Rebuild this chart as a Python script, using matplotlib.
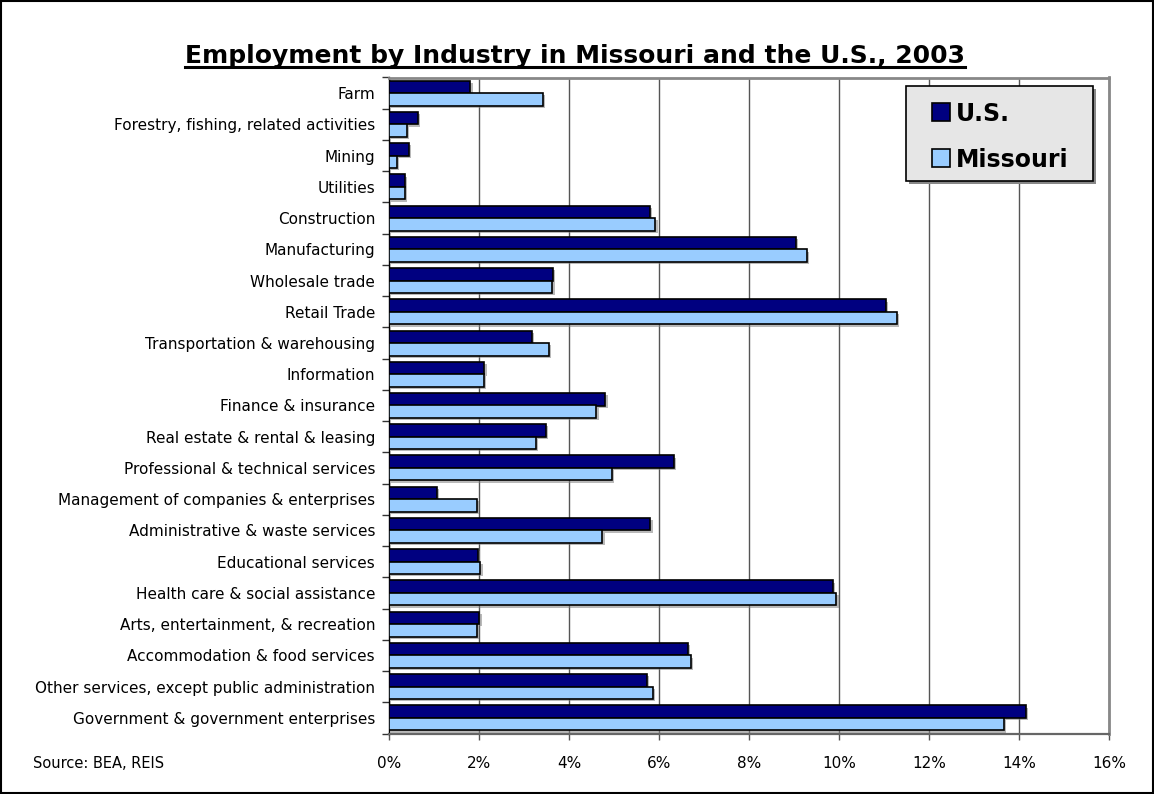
"""Employment by industry: Missouri vs. U.S. share of total employment, 2003."""

import numpy as np
import matplotlib.pyplot as plt
import matplotlib.patheffects as pe
from matplotlib.patches import Rectangle
from matplotlib.lines import Line2D

industries = [
    'Farm',
    'Forestry, fishing, related activities',
    'Mining',
    'Utilities',
    'Construction',
    'Manufacturing',
    'Wholesale trade',
    'Retail Trade',
    'Transportation & warehousing',
    'Information',
    'Finance & insurance',
    'Real estate & rental & leasing',
    'Professional & technical services',
    'Management of companies & enterprises',
    'Administrative & waste services',
    'Educational services',
    'Health care & social assistance',
    'Arts, entertainment, & recreation',
    'Accommodation & food services',
    'Other services, except public administration',
    'Government & government enterprises',
]

# percent of total employment
us_share = [1.81, 0.64, 0.44, 0.35, 5.80, 9.05, 3.64, 11.05, 3.17, 2.12, 4.81,
            3.48, 6.33, 1.07, 5.81, 1.98, 9.86, 2.01, 6.65, 5.73, 14.15]
mo_share = [3.42, 0.40, 0.17, 0.35, 5.92, 9.29, 3.63, 11.29, 3.56, 2.10, 4.61,
            3.26, 4.96, 1.96, 4.74, 2.03, 9.94, 1.96, 6.71, 5.86, 13.66]

series_names = ['U.S.', 'Missouri']
series_colors = ['#000080', '#99CCFF']
x_ticks = np.arange(0, 17, 2)

W, H = 1154, 794
fig = plt.figure(figsize=(W / 100, H / 100), dpi=100)
plt.rcParams['font.family'] = ['DejaVu Sans']

# plot area in pixel coordinates
left, right, top, bottom = 389, 1109, 77.5, 733.5
ax = fig.add_axes([left / W, 1 - bottom / H, (right - left) / W, (bottom - top) / H])

shadow = [pe.SimplePatchShadow(offset=(1.6, -1.6), shadow_rgbFace='#808080', alpha=0.55),
          pe.Normal()]

y = np.arange(len(industries))
bar_h = 0.4
ax.barh(y - bar_h / 2, us_share, height=bar_h, color=series_colors[0],
        edgecolor='black', linewidth=1.2, path_effects=shadow, zorder=3)
ax.barh(y + bar_h / 2, mo_share, height=bar_h, color=series_colors[1],
        edgecolor='black', linewidth=1.2, path_effects=shadow, zorder=3)

ax.set_xlim(0, 16)
ax.set_ylim(len(industries) - 0.5, -0.5)

ax.set_xticks(x_ticks, [f'{v}%' for v in x_ticks])
ax.set_yticks(y, industries)
ax.set_yticks(np.arange(-0.5, len(industries)), minor=True)

ax.tick_params(axis='x', length=4, width=1, color='#555555', pad=12.5, labelsize=11)
ax.tick_params(axis='y', which='major', length=0, pad=10, labelsize=11)
ax.tick_params(axis='y', which='minor', length=5, width=1, color='#333333')

ax.xaxis.grid(True, color='#555555', linewidth=1)
ax.set_axisbelow(True)

for side in ('top', 'right'):
    ax.spines[side].set_color('#888888')
    ax.spines[side].set_linewidth(2)
ax.spines['left'].set_color('black')
ax.spines['left'].set_linewidth(1)
ax.spines['bottom'].set_color('#666666')
ax.spines['bottom'].set_linewidth(1.6)

# title, underlined
title = fig.text(575 / W, 1 - 62.7 / H,
                 'Employment by Industry in Missouri and the U.S., 2003',
                 ha='center', va='baseline', fontsize=18, fontweight='bold')
fig.canvas.draw()
bb = title.get_window_extent(fig.canvas.get_renderer())
fig.add_artist(Line2D([bb.x0 / W, bb.x1 / W], [1 - 66.5 / H] * 2,
                      color='black', linewidth=2.2, transform=fig.transFigure))

# legend box
lx0, ly0, lx1, ly1 = 906, 86, 1093, 181
fig.add_artist(Rectangle(((lx0 + 3) / W, 1 - (ly1 + 3) / H), (lx1 - lx0) / W,
                         (ly1 - ly0) / H, transform=fig.transFigure,
                         facecolor='#888888', edgecolor='none', zorder=5))
fig.add_artist(Rectangle((lx0 / W, 1 - ly1 / H), (lx1 - lx0) / W, (ly1 - ly0) / H,
                         transform=fig.transFigure, facecolor='#E6E6E6',
                         edgecolor='black', linewidth=1.2, zorder=6))
for name, color, base in zip(series_names, series_colors, [121, 167]):
    fig.add_artist(Rectangle((932 / W, 1 - base / H), 18 / W, 18 / H,
                             transform=fig.transFigure, facecolor=color,
                             edgecolor='black', linewidth=1.2, zorder=7))
    fig.text(956 / W, 1 - base / H, name, ha='left', va='baseline',
             fontsize=17, fontweight='bold', zorder=7)

fig.text(33 / W, 1 - 763 / H, 'Source: BEA, REIS', ha='left', va='center',
         fontsize=10.5)

# chart border
fig.add_artist(Rectangle((1 / W, 1 / H), 1 - 2 / W, 1 - 2 / H,
                         transform=fig.transFigure, fill=False,
                         edgecolor='black', linewidth=1.5))

fig.savefig('out.png', dpi=100)
